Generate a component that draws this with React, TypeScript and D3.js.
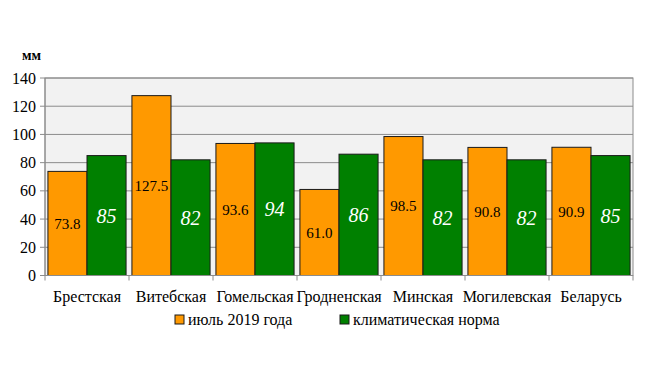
import { useEffect, useRef } from 'react';
import * as d3 from 'd3';

const regions = ['Брестская', 'Витебская', 'Гомельская', 'Гродненская', 'Минская', 'Могилевская', 'Беларусь'];
const july2019 = [73.8, 127.5, 93.6, 61.0, 98.5, 90.8, 90.9];
const climateNorm = [85, 82, 94, 86, 82, 82, 85];
const yTicks = [0, 20, 40, 60, 80, 100, 120, 140];
const seriesNames = ['июль 2019 года', 'климатическая норма'];

const width = 649;
const height = 365;
const margin = { top: 78, right: 16, bottom: 89.5, left: 45 };

export default function App() {
  const ref = useRef<SVGSVGElement>(null);

  useEffect(() => {
    const svg = d3.select(ref.current);
    svg.selectAll('*').remove();
    const innerWidth = width - margin.left - margin.right;
    const innerHeight = height - margin.top - margin.bottom;
    const font = "'Liberation Serif', 'DejaVu Serif', serif";

    const x = d3.scaleBand().domain(regions).range([0, innerWidth]).paddingInner(0).paddingOuter(0);
    const xInner = d3.scaleBand().domain(['a', 'b']).range([0, x.bandwidth()]).paddingOuter(0.075);
    const y = d3.scaleLinear().domain([0, 140]).range([innerHeight, 0]);

    svg.style('font-family', font);

    const g = svg.append('g').attr('transform', `translate(${margin.left},${margin.top})`);

    g.append('rect')
      .attr('width', innerWidth)
      .attr('height', innerHeight)
      .attr('fill', '#f2f2f2')
      .attr('stroke', '#8c8c8c');

    g.selectAll('.grid')
      .data(yTicks.slice(1))
      .join('line')
      .attr('x1', 0)
      .attr('x2', innerWidth)
      .attr('y1', (d) => y(d))
      .attr('y2', (d) => y(d))
      .attr('stroke', '#8c8c8c')
      .attr('stroke-width', 1);

    const groups = g.selectAll('.grp')
      .data(regions)
      .join('g')
      .attr('transform', (d) => `translate(${x(d)},0)`);

    groups.append('rect')
      .attr('x', xInner('a')!)
      .attr('width', xInner.bandwidth())
      .attr('y', (_, i) => y(july2019[i]))
      .attr('height', (_, i) => innerHeight - y(july2019[i]))
      .attr('fill', '#ff9900')
      .attr('stroke', '#1a1a1a')
      .attr('stroke-width', 1);

    groups.append('rect')
      .attr('x', xInner('b')!)
      .attr('width', xInner.bandwidth())
      .attr('y', (_, i) => y(climateNorm[i]))
      .attr('height', (_, i) => innerHeight - y(climateNorm[i]))
      .attr('fill', '#008000')
      .attr('stroke', '#1a1a1a')
      .attr('stroke-width', 1);

    groups.append('text')
      .attr('x', xInner('a')! + xInner.bandwidth() / 2)
      .attr('y', (_, i) => (y(july2019[i]) + innerHeight) / 2)
      .attr('dy', '0.35em')
      .attr('text-anchor', 'middle')
      .style('font-size', '15px')
      .attr('fill', '#000')
      .text((_, i) => july2019[i].toFixed(1));

    groups.append('text')
      .attr('x', xInner('b')! + xInner.bandwidth() / 2)
      .attr('y', (_, i) => (y(climateNorm[i]) + innerHeight) / 2)
      .attr('dy', '0.35em')
      .attr('text-anchor', 'middle')
      .style('font-size', '20px')
      .style('font-style', 'italic')
      .attr('fill', '#fff')
      .text((_, i) => String(climateNorm[i]));

    // y axis
    const yAxis = g.append('g');
    yAxis.append('line').attr('x1', 0).attr('x2', 0).attr('y1', 0).attr('y2', innerHeight).attr('stroke', '#8c8c8c');
    yAxis.selectAll('.tk')
      .data(yTicks)
      .join('line')
      .attr('x1', -5)
      .attr('x2', 0)
      .attr('y1', (d) => y(d))
      .attr('y2', (d) => y(d))
      .attr('stroke', '#8c8c8c');
    yAxis.selectAll('.lbl')
      .data(yTicks)
      .join('text')
      .attr('x', -9)
      .attr('y', (d) => y(d))
      .attr('dy', '0.35em')
      .attr('text-anchor', 'end')
      .style('font-size', '16px')
      .text((d) => d);

    // x axis
    const xAxis = g.append('g').attr('transform', `translate(0,${innerHeight})`);
    xAxis.append('line').attr('x1', 0).attr('x2', innerWidth).attr('stroke', '#8c8c8c');
    xAxis.selectAll('.tk')
      .data(d3.range(regions.length + 1))
      .join('line')
      .attr('x1', (i) => i * x.step())
      .attr('x2', (i) => i * x.step())
      .attr('y1', 0)
      .attr('y2', 5)
      .attr('stroke', '#8c8c8c');
    xAxis.selectAll('.lbl')
      .data(regions)
      .join('text')
      .attr('x', (d) => x(d)! + x.bandwidth() / 2)
      .attr('y', 26.5)
      .attr('text-anchor', 'middle')
      .style('font-size', '16px')
      .text((d) => d);

    // unit
    svg.append('text')
      .attr('x', 22)
      .attr('y', 60)
      .style('font-size', '14px')
      .style('font-weight', 'bold')
      .text('мм');

    // legend
    const colors = ['#ff9900', '#008000'];
    const legendX = [175, 340];
    const legend = svg.selectAll('.leg')
      .data(seriesNames)
      .join('g')
      .attr('transform', (_, i) => `translate(${legendX[i]},315)`);
    legend.append('rect')
      .attr('width', 9)
      .attr('height', 9)
      .attr('fill', (_, i) => colors[i])
      .attr('stroke', '#1a1a1a');
    legend.append('text')
      .attr('x', 13)
      .attr('y', 4.5)
      .attr('dy', '0.35em')
      .style('font-size', '16px')
      .text((d) => d);
  }, []);

  return <svg ref={ref} width={width} height={height} style={{ display: 'block', margin: '-8px' }} />;
}
